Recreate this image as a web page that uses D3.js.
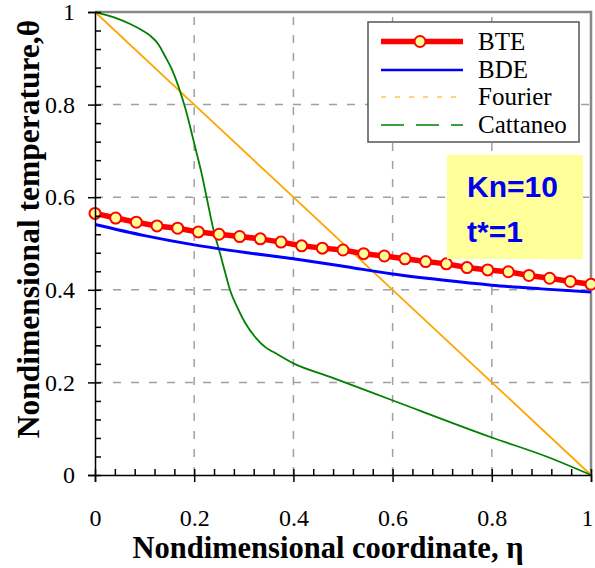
<!DOCTYPE html>
<html>
<head>
<meta charset="utf-8">
<script src="https://d3js.org/d3.v7.min.js"></script>
<style>
  body { margin: 0; background: #fff; }
  svg { display: block; }
</style>
</head>
<body>
<script>
// ---- data ----
var bteX = d3.range(25).map(function(i) { return i / 24; });
var bteY = [0.565, 0.555, 0.546, 0.538, 0.533, 0.525, 0.520, 0.515, 0.510, 0.503,
            0.495, 0.490, 0.486, 0.478, 0.473, 0.467, 0.461, 0.456, 0.448, 0.443,
            0.439, 0.431, 0.425, 0.418, 0.412];

var bdeX = [0, 0.1, 0.2, 0.3, 0.4, 0.5, 0.6, 0.7, 0.8, 0.9, 1.0];
var bdeY = [0.541, 0.517, 0.497, 0.481, 0.467, 0.451, 0.434, 0.421, 0.410, 0.402, 0.395];

var fourierX = [0, 0.2, 0.4, 0.6, 0.8, 1];
var fourierY = [1, 0.8, 0.6, 0.4, 0.2, 0];

var cattX = [0, 0.037, 0.071, 0.094, 0.111, 0.128, 0.141, 0.155, 0.165, 0.175,
             0.185, 0.195, 0.205, 0.215, 0.225, 0.239, 0.252, 0.262, 0.272, 0.286,
             0.302, 0.326, 0.346, 0.359, 0.400, 0.474, 0.598, 0.800, 0.910, 1.0];
var cattY = [1.0, 0.989, 0.974, 0.961, 0.949, 0.930, 0.905, 0.876, 0.849, 0.817,
             0.781, 0.738, 0.695, 0.651, 0.600, 0.529, 0.479, 0.439, 0.400, 0.364,
             0.330, 0.294, 0.274, 0.266, 0.241, 0.212, 0.162, 0.081, 0.040, 0.0];

var majorTicks = [0, 0.2, 0.4, 0.6, 0.8, 1];
var tickLabels = ["0", "0.2", "0.4", "0.6", "0.8", "1"];
var minorTicks = d3.range(26).map(function(i) { return i * 0.04; });

var legendNames = ["BTE", "BDE", "Fourier", "Cattaneo"];
var noteLines = ["Kn=10", "t*=1"];

// ---- setup ----
var W = 595, H = 568;
var SERIF = "'Liberation Serif', 'Times New Roman', serif";
var svg = d3.select("body").append("svg").attr("width", W).attr("height", H);

var x = d3.scaleLinear().domain([0, 1]).range([95, 591]);
var y = d3.scaleLinear().domain([0, 1]).range([475, 12]);

// grid lines (dashed gray)
var gridVals = [0.2, 0.4, 0.6, 0.8];
svg.append("g").selectAll("line").data(gridVals).enter().append("line")
  .attr("x1", function(d) { return x(d); }).attr("x2", function(d) { return x(d); })
  .attr("y1", y(0)).attr("y2", y(1))
  .attr("stroke", "#a0a0a0").attr("stroke-width", 1.5).attr("stroke-dasharray", "8,10");
svg.append("g").selectAll("line").data(gridVals).enter().append("line")
  .attr("y1", function(d) { return y(d); }).attr("y2", function(d) { return y(d); })
  .attr("x1", x(0)).attr("x2", x(1))
  .attr("stroke", "#a0a0a0").attr("stroke-width", 1.5).attr("stroke-dasharray", "8,10");

// top and right frame (gray)
svg.append("path")
  .attr("d", "M" + x(0) + "," + y(1) + "H" + x(1) + "V" + y(0))
  .attr("fill", "none").attr("stroke", "#888").attr("stroke-width", 2.5);

// ---- lines ----
function mkLine(xs, ys, curve) {
  var pts = xs.map(function(v, i) { return [v, ys[i]]; });
  return d3.line().x(function(d) { return x(d[0]); }).y(function(d) { return y(d[1]); })
    .curve(curve || d3.curveLinear)(pts);
}

svg.append("path").attr("d", mkLine(fourierX, fourierY))
  .attr("fill", "none").attr("stroke", "#ffa500").attr("stroke-width", 1.8);
svg.append("path").attr("d", mkLine(cattX, cattY, d3.curveMonotoneX))
  .attr("fill", "none").attr("stroke", "#008000").attr("stroke-width", 1.8);
svg.append("path").attr("d", mkLine(bdeX, bdeY, d3.curveMonotoneX))
  .attr("fill", "none").attr("stroke", "#0000ff").attr("stroke-width", 3);
svg.append("path").attr("d", mkLine(bteX, bteY))
  .attr("fill", "none").attr("stroke", "#ff0000").attr("stroke-width", 5.5);
svg.append("g").selectAll("circle").data(bteX).enter().append("circle")
  .attr("cx", function(d) { return x(d); })
  .attr("cy", function(d, i) { return y(bteY[i]); })
  .attr("r", 5.5).attr("fill", "#ffff99").attr("stroke", "#ff0000").attr("stroke-width", 2);

// ---- axes ----
var xAxis = svg.append("g").attr("transform", "translate(0," + y(0) + ")")
  .call(d3.axisBottom(x).tickValues(majorTicks).tickSize(7).tickPadding(27)
    .tickFormat(function(d, i) { return tickLabels[i]; }));
var xMinor = svg.append("g").attr("transform", "translate(0," + y(0) + ")")
  .call(d3.axisBottom(x).tickValues(minorTicks).tickSize(-6).tickFormat(""));
var yAxis = svg.append("g").attr("transform", "translate(" + x(0) + ",0)")
  .call(d3.axisLeft(y).tickValues(majorTicks).tickSize(7).tickPadding(13)
    .tickFormat(function(d, i) { return tickLabels[i]; }));
var yMinor = svg.append("g").attr("transform", "translate(" + x(0) + ",0)")
  .call(d3.axisLeft(y).tickValues(minorTicks).tickSize(-6).tickFormat(""));

[xAxis, xMinor, yAxis, yMinor].forEach(function(g) {
  g.attr("font-family", SERIF).attr("font-size", 24);
  g.selectAll("line").attr("stroke", "#000").attr("stroke-width", 1.5);
  g.select(".domain").attr("stroke", "#000").attr("stroke-width", 1.5);
  g.selectAll("text").attr("fill", "#000")
    .style("font-family", SERIF).style("font-size", "24px");
});
xMinor.select(".domain").remove();
yMinor.select(".domain").remove();
// last x label sits at the right edge, nudge it inside
xAxis.selectAll(".tick text").filter(function(d) { return d === 1; }).attr("dx", "-4");

// axis titles
svg.append("text")
  .attr("x", 328).attr("y", 558).attr("text-anchor", "middle")
  .style("font-family", SERIF)
  .style("font-weight", "bold").style("font-size", "30.5px")
  .text("Nondimensional coordinate, \u03b7");
svg.append("text")
  .attr("transform", "translate(39,229) rotate(-90)").attr("text-anchor", "middle")
  .style("font-family", SERIF)
  .style("font-weight", "bold").style("font-size", "31.5px")
  .text("Nondimensional temperature,\u03b8");

// ---- legend ----
var lg = svg.append("g");
lg.append("rect").attr("x", 368).attr("y", 22).attr("width", 211).attr("height", 120)
  .attr("fill", "#fff").attr("stroke", "#555").attr("stroke-width", 1.5);
var legendStyles = [
  { color: "#ff0000", width: 5.5, dash: null, marker: true },
  { color: "#0000ff", width: 2.5, dash: null, marker: false },
  { color: "#ffa500", width: 1.2, dash: "5,9", marker: false },
  { color: "#008000", width: 1.5, dash: "23,12", marker: false }
];
var legendY = [41.5, 70, 97, 125];
legendNames.forEach(function(name, i) {
  var s = legendStyles[i];
  lg.append("line").attr("x1", 381).attr("x2", 463).attr("y1", legendY[i]).attr("y2", legendY[i])
    .attr("stroke", s.color).attr("stroke-width", s.width)
    .attr("stroke-dasharray", s.dash);
  if (s.marker) {
    lg.append("circle").attr("cx", 420).attr("cy", legendY[i]).attr("r", 5.5)
      .attr("fill", "#ffff99").attr("stroke", "#ff0000").attr("stroke-width", 2);
  }
  lg.append("text").attr("x", 478).attr("y", legendY[i] + 8)
    .style("font-family", SERIF)
    .style("font-size", "25px").text(name);
});

// ---- note box ----
svg.append("rect").attr("x", 447).attr("y", 155).attr("width", 136).attr("height", 104)
  .attr("fill", "#ffff99");
var noteY = [197, 242];
noteLines.forEach(function(t, i) {
  svg.append("text").attr("x", 467).attr("y", noteY[i])
    .style("font-family", "'Liberation Sans', Arial, sans-serif")
    .style("font-weight", "bold").style("font-size", "30px")
    .attr("fill", "#0000ee").text(t);
});
</script>
</body>
</html>
